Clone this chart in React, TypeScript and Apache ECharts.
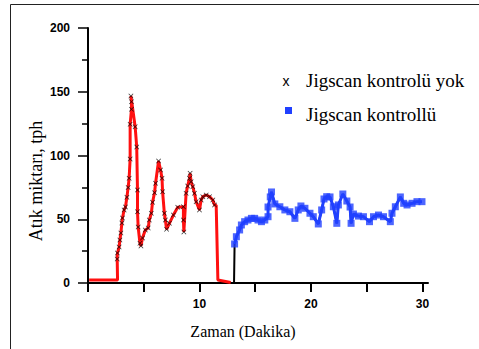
import React, { useEffect, useRef } from "react";
import * as echarts from "echarts";

// Jigscan kontrolü yok (red line, black x markers): [dakika, tph]
const noControl: number[][] = [
  [0.1, 2.4], [2.65, 2.4], [2.62, 18.8], [2.64, 23.5], [2.79, 28.2], [2.86, 33.7], [2.95, 39.2],
  [3.04, 47.1], [3.09, 51], [3.24, 57.3], [3.36, 59.6], [3.49, 67.2], [3.6, 75], [3.69, 82.1],
  [3.78, 97.3], [3.78, 124.5], [3.9, 136.2], [3.9, 142.2], [3.85, 146.7], [4.23, 122.6],
  [4.37, 106.7], [4.44, 72.9], [4.44, 55.9], [4.5, 43.9], [4.66, 31.1], [4.75, 29], [4.89, 35.3],
  [5.14, 41.6], [5.4, 43.1], [5.5, 49.4], [5.68, 54.7], [5.79, 63.3], [5.97, 70.8], [6.06, 78.2],
  [6.33, 95.7], [6.51, 88.6], [6.64, 82.1], [6.69, 71.6], [6.85, 54.7], [6.94, 49.4], [7.05, 42.1],
  [7.3, 46.8], [7.66, 53.3], [8.05, 59.4], [8.56, 59.8], [8.56, 49.4], [8.6, 40], [8.8, 70.4],
  [8.94, 76.1], [9.1, 82.1], [9.16, 86], [9.25, 79.5], [9.4, 75.5], [9.55, 70.4], [9.7, 63.8],
  [10, 57.3], [10.15, 65.1], [10.3, 67.7], [10.6, 69], [10.9, 67.7], [11.2, 65.1], [11.35, 61.2],
  [11.5, 61], [11.65, 2.4], [12.8, 0.4],
];

// Jigscan kontrollü (blue squares joined by a black line)
const controlStart: number[] = [13.1, 0];
const withControl: number[][] = [
  [13.15, 30.6], [13.31, 36.3], [13.6, 41.6], [13.76, 45.5], [14.05, 48.1], [14.35, 49.4],
  [14.66, 50.7], [14.95, 50.7], [15.25, 49.4], [15.56, 48.1], [15.86, 49.4], [16.15, 52],
  [16.15, 59.6], [16.35, 67.5], [16.46, 71.4], [16.76, 62], [17.21, 59.8], [17.66, 57.3],
  [18.11, 55.9], [18.56, 50.7], [18.86, 57.3], [19.1, 60.4], [19.46, 58.6], [19.91, 54.7],
  [20.21, 52], [20.66, 46.3], [20.96, 57.3], [21.17, 65.9], [21.41, 67.7], [21.71, 67.5],
  [22.01, 59.8], [22.32, 46.8], [22.46, 61.2], [22.86, 69.8], [23.22, 64.3], [23.51, 59.6],
  [23.6, 46.8], [23.81, 54.1], [24.26, 52.5], [24.71, 52], [25.25, 48.1], [25.61, 52],
  [26.06, 53.3], [26.51, 52], [27.12, 48.1], [27.27, 54.7], [27.57, 59.8], [28.02, 67.5],
  [28.32, 62.5], [28.62, 61.2], [29.07, 62.5], [29.51, 63.8], [29.96, 63.8],
];

const xTicks = [0, 5, 10, 15, 20, 25, 30];
const xLabels = [10, 20, 30];
const legendNames = ["Jigscan kontrolü yok", "Jigscan kontrollü"];
const xName = "Zaman (Dakika)";
const yName = "Atık miktarı, tph";

const BLUE = "#2040ff";
const RED = "#ff1010";
const X_PATH = "path://M0,1L1,0L5,4L9,0L10,1L6,5L10,9L9,10L5,6L1,10L0,9L4,5Z";

export default function App() {
  const ref = useRef<HTMLDivElement>(null);
  useEffect(() => {
    if (!ref.current) return;
    const chart = echarts.init(ref.current, null, { renderer: "svg" });
    const serif = "'Liberation Serif', 'Times New Roman', serif";
    const sans = "'Liberation Sans', Arial, sans-serif";
    chart.setOption({
      animation: false,
      backgroundColor: "#fff",
      grid: { left: 88, top: 28, right: 51, bottom: 66 },
      xAxis: {
        type: "value",
        min: 0,
        max: 30.5,
        axisLine: { lineStyle: { color: "#000", width: 2 } },
        axisTick: { show: true, customValues: xTicks, length: 9, lineStyle: { color: "#000", width: 2 } },
        axisLabel: {
          customValues: xLabels,
          margin: 15,
          color: "#000",
          fontWeight: "bold",
          fontSize: 12,
          fontFamily: sans,
        },
        splitLine: { show: false },
      },
      yAxis: {
        type: "value",
        min: 0,
        max: 200,
        interval: 50,
        axisLine: { show: true, lineStyle: { color: "#000", width: 2 } },
        axisTick: { show: true, length: 10, lineStyle: { color: "#000", width: 1.5 } },
        minorTick: { show: true, splitNumber: 2, length: 6, lineStyle: { color: "#000", width: 1.5 } },
        axisLabel: { margin: 18, color: "#000", fontWeight: "bold", fontSize: 12, fontFamily: sans },
        splitLine: { show: false },
        minorSplitLine: { show: false },
      },
      series: [
        {
          name: legendNames[0],
          type: "line",
          data: noControl,
          showSymbol: false,
          lineStyle: { color: RED, width: 3 },
          z: 2,
        },
        {
          name: legendNames[0] + " x",
          type: "scatter",
          data: noControl.slice(2, -3),
          symbol: X_PATH,
          symbolSize: 5,
          itemStyle: { color: "#000" },
          z: 3,
        },
        {
          name: legendNames[1] + " line",
          type: "line",
          data: [controlStart, ...withControl],
          showSymbol: false,
          lineStyle: { color: "#000", width: 2 },
          z: 2,
        },
        {
          name: legendNames[1] + " band",
          type: "line",
          data: withControl,
          showSymbol: false,
          lineStyle: { color: BLUE, width: 3 },
          z: 3,
        },
        {
          name: legendNames[1],
          type: "scatter",
          data: withControl,
          symbol: "rect",
          symbolSize: 7,
          itemStyle: { color: BLUE },
          z: 4,
        },
      ],
      graphic: [
        { type: "line", shape: { x1: 10.5, y1: 4.5, x2: 479, y2: 4.5 }, style: { stroke: "#222", lineWidth: 1 } },
        { type: "line", shape: { x1: 10.5, y1: 4.5, x2: 10.5, y2: 349 }, style: { stroke: "#222", lineWidth: 1 } },
        {
          type: "text",
          x: 36,
          y: 181,
          rotation: Math.PI / 2,
          style: { text: yName, font: `18px ${serif}`, fill: "#000", align: "center", verticalAlign: "middle" },
        },
        {
          type: "text",
          x: 243,
          y: 331,
          style: { text: xName, font: `16px ${serif}`, fill: "#000", align: "center", verticalAlign: "middle" },
        },
        {
          type: "text",
          x: 286,
          y: 81,
          style: { text: "x", font: `14px ${sans}`, fill: "#000", align: "center", verticalAlign: "middle" },
        },
        {
          type: "text",
          x: 306,
          y: 80,
          style: { text: legendNames[0], font: `19px ${serif}`, fill: "#000", align: "left", verticalAlign: "middle" },
        },
        { type: "rect", shape: { x: 285, y: 107, width: 7, height: 7 }, style: { fill: BLUE } },
        {
          type: "text",
          x: 306,
          y: 114,
          style: { text: legendNames[1], font: `19px ${serif}`, fill: "#000", align: "left", verticalAlign: "middle" },
        },
      ],
    });
    return () => chart.dispose();
  }, []);
  return <div ref={ref} style={{ position: "absolute", left: 0, top: 0, width: 479, height: 349 }} />;
}
